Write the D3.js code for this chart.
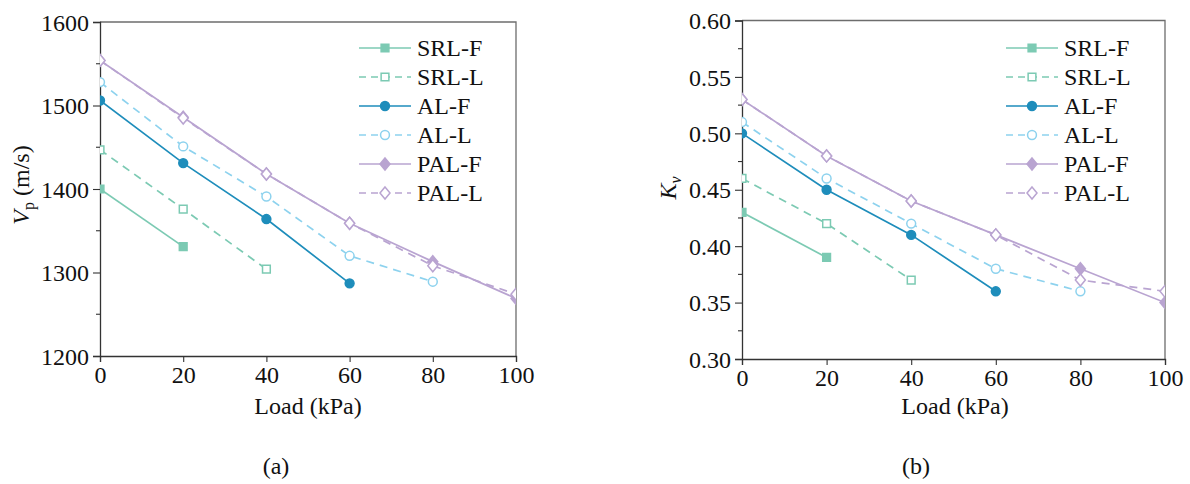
<!DOCTYPE html>
<html>
<head>
<meta charset="utf-8">
<script src="https://cdn.jsdelivr.net/npm/d3@7"></script>
<style>
  html, body { margin: 0; padding: 0; background: #fff; }
  svg text { font-family: "Liberation Serif", "Times New Roman", serif !important; fill: #111; }
</style>
</head>
<body>
<svg id="chart" width="1190" height="484"></svg>
<script>
// Load steps (kPa)
const loads = [0, 20, 40, 60, 80, 100];
const seriesNames = ["SRL-F", "SRL-L", "AL-F", "AL-L", "PAL-F", "PAL-L"];

// P-wave velocity Vp (m/s)
const vpSRLF = [1400, 1331];
const vpSRLL = [1447, 1376, 1304];
const vpALF  = [1506, 1431, 1364, 1287];
const vpALL  = [1528, 1451, 1391, 1320, 1289];
const vpPALF = [1554, 1486, 1418, 1359, 1313, 1269];
const vpPALL = [1554, 1485, 1418, 1359, 1308, 1274];

// Velocity ratio Kv
const kvSRLF = [0.43, 0.39];
const kvSRLL = [0.46, 0.42, 0.37];
const kvALF  = [0.50, 0.45, 0.41, 0.36];
const kvALL  = [0.51, 0.46, 0.42, 0.38, 0.36];
const kvPALF = [0.53, 0.48, 0.44, 0.41, 0.38, 0.35];
const kvPALL = [0.53, 0.48, 0.44, 0.41, 0.37, 0.36];

// Axis ticks
const xTicks = [0, 20, 40, 60, 80, 100];
const vpTicks = [1200, 1300, 1400, 1500, 1600];
const kvTicks = [0.30, 0.35, 0.40, 0.45, 0.50, 0.55, 0.60];

// Series styling
const styles = {
  "SRL-F": { color: "#7ccab3", dash: null,  marker: "square",  filled: true },
  "SRL-L": { color: "#7ccab3", dash: "8,6", marker: "square",  filled: false },
  "AL-F":  { color: "#1e8dbb", dash: null,  marker: "circle",  filled: true },
  "AL-L":  { color: "#8dd2ee", dash: "8,6", marker: "circle",  filled: false },
  "PAL-F": { color: "#b9a4d1", dash: null,  marker: "diamond", filled: true },
  "PAL-L": { color: "#b9a4d1", dash: "8,6", marker: "diamond", filled: false }
};

const svg = d3.select("#chart");
const FONT = 24;

function markerPath(type) {
  if (type === "square") return d3.symbol(d3.symbolSquare, 60)();
  if (type === "circle") return d3.symbol(d3.symbolCircle, 62)();
  return "M0,-6L5,0L0,6L-5,0Z";
}

function drawPanel(cfg) {
  const { left, right, top, bottom, yDomain, yTicks, yFormat, minorStep, series, id } = cfg;
  const x = d3.scaleLinear().domain([0, 100]).range([left, right]);
  const y = d3.scaleLinear().domain(yDomain).range([bottom, top]);
  const g = svg.append("g");

  // clip region for the plotting area
  svg.append("clipPath").attr("id", id)
    .append("rect").attr("x", left).attr("y", top)
    .attr("width", right - left).attr("height", bottom - top);

  // frame (top and right edges)
  g.append("path")
    .attr("d", `M${left},${top}H${right}V${bottom}`)
    .attr("fill", "none").attr("stroke", "#6d6d6d").attr("stroke-width", 1.3);

  // minor y ticks
  const minor = d3.range(yDomain[0] + minorStep, yDomain[1], minorStep * 2);
  g.selectAll(".minor").data(minor).join("line")
    .attr("x1", left - 4).attr("x2", left)
    .attr("y1", d => y(d)).attr("y2", d => y(d))
    .attr("stroke", "#333").attr("stroke-width", 1.1);

  // axes
  const ax = g.append("g").attr("transform", `translate(0,${bottom})`)
    .call(d3.axisBottom(x).tickValues(xTicks).tickSize(6).tickPadding(4).tickFormat(d3.format("d")));
  const ay = g.append("g").attr("transform", `translate(${left},0)`)
    .call(d3.axisLeft(y).tickValues(yTicks).tickSize(7).tickPadding(4).tickFormat(yFormat));
  [ax, ay].forEach(a => {
    a.attr("font-family", null).attr("font-size", null);
    a.select(".domain").attr("stroke", "#333").attr("stroke-width", 1.3);
    a.selectAll(".tick line").attr("stroke", "#333").attr("stroke-width", 1.1);
    a.selectAll("text").attr("font-size", FONT).attr("fill", "#111");
  });
  ay.selectAll("text").attr("dy", "0.34em");

  const plot = g.append("g").attr("clip-path", `url(#${id})`);
  const line = d3.line().x((d, i) => x(loads[i])).y(d => y(d));

  series.forEach(([name, vals]) => {
    const s = styles[name];
    plot.append("path").datum(vals)
      .attr("d", line)
      .attr("fill", "none").attr("stroke", s.color).attr("stroke-width", 1.7)
      .attr("stroke-dasharray", s.dash);
    plot.selectAll(null).data(vals).join("path")
      .attr("transform", (d, i) => `translate(${x(loads[i])},${y(d)})`)
      .attr("d", markerPath(s.marker))
      .attr("fill", s.filled ? s.color : "#fff")
      .attr("stroke", s.color).attr("stroke-width", 1.5);
  });

  // legend
  const lx0 = cfg.legendX, ly0 = 48, step = 29;
  seriesNames.forEach((name, i) => {
    const s = styles[name];
    const yy = ly0 + i * step;
    const lg = g.append("g");
    lg.append("line").attr("x1", lx0).attr("x2", lx0 + 52)
      .attr("y1", yy).attr("y2", yy)
      .attr("stroke", s.color).attr("stroke-width", 1.7)
      .attr("stroke-dasharray", s.dash ? "7,5" : null);
    lg.append("path").attr("transform", `translate(${lx0 + 26},${yy})`)
      .attr("d", markerPath(s.marker))
      .attr("fill", s.filled ? s.color : "#fff")
      .attr("stroke", s.color).attr("stroke-width", 1.5);
    lg.append("text").attr("x", lx0 + 58).attr("y", yy + 8)
      .attr("font-size", FONT).text(name);
  });

  // x-axis title and panel caption
  g.append("text").attr("x", cfg.xTitleX).attr("y", 414)
    .attr("text-anchor", "middle").attr("font-size", FONT).text("Load (kPa)");
  g.append("text").attr("x", cfg.captionX).attr("y", 474)
    .attr("text-anchor", "middle").attr("font-size", FONT).text(cfg.caption);
  return g;
}

const gA = drawPanel({
  id: "clipA", left: 100, right: 516, top: 22, bottom: 356,
  yDomain: [1200, 1600], yTicks: vpTicks, yFormat: d3.format("d"), minorStep: 50,
  series: [["SRL-F", vpSRLF], ["SRL-L", vpSRLL], ["AL-F", vpALF], ["AL-L", vpALL], ["PAL-F", vpPALF], ["PAL-L", vpPALL]],
  legendX: 359, xTitleX: 308, captionX: 276, caption: "(a)"
});

const gB = drawPanel({
  id: "clipB", left: 742, right: 1165, top: 20.5, bottom: 359,
  yDomain: [0.30, 0.60], yTicks: kvTicks, yFormat: d3.format(".2f"), minorStep: 0.025,
  series: [["SRL-F", kvSRLF], ["SRL-L", kvSRLL], ["AL-F", kvALF], ["AL-L", kvALL], ["PAL-F", kvPALF], ["PAL-L", kvPALL]],
  legendX: 1006, xTitleX: 955, captionX: 916, caption: "(b)"
});

// y-axis titles
const tA = gA.append("text").attr("transform", "translate(29,185) rotate(-90)")
  .attr("text-anchor", "middle").attr("font-size", FONT);
tA.append("tspan").attr("font-style", "italic").text("V");
tA.append("tspan").attr("font-size", 16).attr("dy", 5).text("p");
tA.append("tspan").attr("dy", -5).text(" (m/s)");

const tB = gB.append("text").attr("transform", "translate(676,188) rotate(-90)")
  .attr("text-anchor", "middle").attr("font-size", FONT);
tB.append("tspan").attr("font-style", "italic").text("K");
tB.append("tspan").attr("font-size", 16).attr("dy", 5).attr("font-style", "italic").text("v");
</script>
</body>
</html>
